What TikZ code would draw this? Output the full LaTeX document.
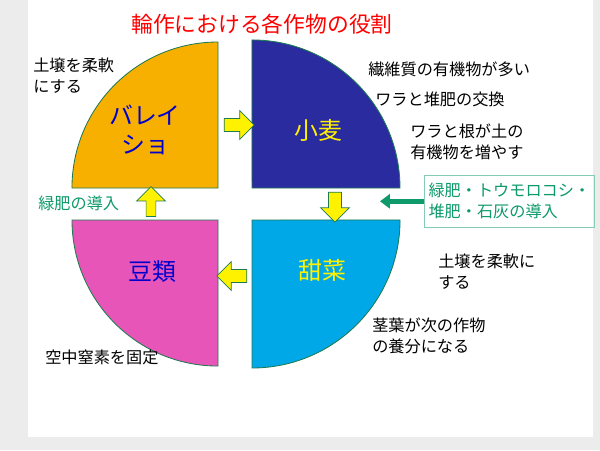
\documentclass[tikz,border=0pt]{standalone}
\usepackage{fontspec}
\setmainfont{Noto Sans CJK JP}
\usetikzlibrary{shapes.arrows,arrows.meta}
\definecolor{potato}{HTML}{F8B000}
\definecolor{wheat}{HTML}{2B2BA0}
\definecolor{bean}{HTML}{E855B8}
\definecolor{beet}{HTML}{00A8E8}
\definecolor{edge}{HTML}{1E7A50}
\definecolor{fert}{HTML}{0E9A6A}
\tikzset{
  quarter/.style={draw=edge, line width=0.6pt},
  flow/.style={single arrow, draw=edge, fill=yellow, line width=0.5pt, minimum height=0.75cm, minimum width=0.72cm, single arrow head extend=0.12cm, inner sep=2.5pt},
  note/.style={anchor=north west, align=left, font=\fontsize{11.5}{14.5}\selectfont, inner sep=0pt},
  crop/.style={font=\fontsize{17}{21}\selectfont, align=center}
}
\begin{document}
\begin{tikzpicture}[x=0.025cm,y=-0.025cm]

\fill[gray!15] (0,0) rectangle (600,450);
\fill[white] (28,0) rectangle (593,437);
\useasboundingbox (0,0) rectangle (600,450);

\node[text=red, font=\fontsize{15.5}{18}\selectfont] (title) at (262,24) {輪作における各作物の役割};

% four quarters
\coordinate (ctl) at (218,188);
\coordinate (ctr) at (252,188);
\coordinate (cbl) at (218,220);
\coordinate (cbr) at (252,220);
\draw[quarter, fill=potato] (ctl) -- ++(0,-146) arc[start angle=90, end angle=180, radius=3.65cm] -- cycle;
\draw[quarter, fill=wheat] (ctr) -- ++(148,0) arc[start angle=0, end angle=90, radius=3.7cm] -- cycle;
\draw[quarter, fill=bean] (cbl) -- ++(-146,0) arc[start angle=180, end angle=270, radius=3.65cm] -- cycle;
\draw[quarter, fill=beet] (cbr) -- ++(0,148) arc[start angle=270, end angle=360, radius=3.7cm] -- cycle;

\node[crop, text=blue!80!black] (potato) at (145,130) {バレイ\\ショ};
\node[crop, text=yellow] (wheat) at (318,130) {小麦};
\node[crop, text=yellow] (beet) at (322,270) {甜菜};
\node[crop, text=blue!80!black] (bean) at (152,272) {豆類};

% rotation arrows
\node[flow] (a1) at (236,125) {};
\node[flow, rotate=-90] (a2) at (335,204) {};
\node[flow, rotate=180] (a3) at (235,276) {};
\node[flow, rotate=90, inner sep=1.5pt] (a4) at (151,204) {};

% inputs
\node[draw=fert!50, text=fert, align=left, inner sep=3pt, anchor=north west, minimum width=4.2cm, minimum height=1.3cm, font=\fontsize{11.5}{15}\selectfont] (input) at (424,175) {緑肥・トウモロコシ・\\堆肥・石灰の導入};
\draw[line width=3.5pt, fert, -{Triangle[length=7pt,width=10pt]}] (input.west) -- ++(-44,0) coordinate (inend);
\node[note, text=fert] (green) at (38,196) {緑肥の導入};

% notes
\node[note] (n1) at (33,58) {土壌を柔軟\\にする};
\node[note] (n2) at (368,62) {繊維質の有機物が多い};
\node[note] (n3) at (375,92) {ワラと堆肥の交換};
\node[note] (n4) at (410,124) {ワラと根が土の\\有機物を増やす};
\node[note] (n5) at (438,254) {土壌を柔軟に\\する};
\node[note] (n6) at (372,318) {茎葉が次の作物\\の養分になる};
\node[note] (n7) at (45,350) {空中窒素を固定};
\end{tikzpicture}
\end{document}
